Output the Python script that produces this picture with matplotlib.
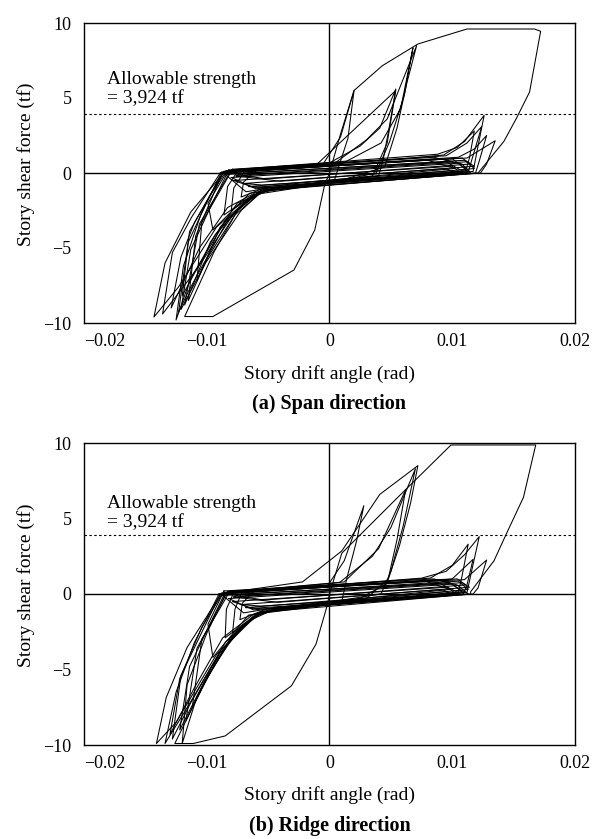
import matplotlib
matplotlib.use("Agg")
import matplotlib.pyplot as plt

plt.rcParams['font.family'] = ['Liberation Serif', 'DejaVu Serif']

# tick values / labels
x_ticks = [-0.02, -0.01, 0, 0.01, 0.02]
x_ticklabels = ['\u22120.02', '\u22120.01', '0', '0.01', '0.02']
y_ticks = [-10, -5, 0, 5, 10]
y_ticklabels = ['\u221210', '\u22125', '0', '5', '10']
allowable = 3.924

# (a) span direction: hysteresis loops, (drift angle, shear force)
span_big = [(-0.0004, -0.8), (0.0, 0.0), (0.0009, 2.6), (0.0020, 5.5), (0.0043, 7.15),
            (0.0072, 8.6), (0.0112, 9.6), (0.0167, 9.6), (0.0172, 9.45), (0.0163, 5.4),
            (0.0152, 3.6), (0.0142, 2.1), (0.0121, 0.0), (-0.0054, -1.15), (-0.0077, -2.8),
            (-0.0094, -5.25), (-0.0118, -9.57), (-0.0095, -9.57), (-0.0029, -6.47),
            (-0.0012, -3.8), (-0.0004, -0.8)]
span_c1 = [(-0.0088, 0.05), (0.0010, 0.62), (0.0042, 2.0), (0.0058, 4.3), (0.0068, 8.35),
           (0.0061, 5.2), (0.0049, 2.1), (0.0038, 0.0), (0.0015, -0.4), (-0.0056, -1.2),
           (-0.0084, -3.1), (-0.0113, -7.0), (-0.0125, -9.8), (-0.0119, -6.2),
           (-0.0105, -2.8), (-0.0088, 0.05)]
span_c2 = [(-0.0085, 0.12), (0.0005, 0.7), (0.0030, 2.2), (0.0047, 3.6), (0.0071, 8.5),
           (0.0063, 6.0), (0.0055, 3.0), (0.0045, 0.4), (0.0005, -0.6), (-0.0062, -1.45),
           (-0.0092, -3.6), (-0.0123, -7.6), (-0.0143, -9.6), (-0.0134, -6.0),
           (-0.0113, -2.6), (-0.0085, 0.12)]
span_c3 = [(-0.0089, 0.0), (-0.0005, 0.45), (0.0025, 1.8), (0.0041, 3.0), (0.0054, 5.6),
           (0.0049, 3.2), (0.0044, 1.0), (0.0040, -0.2), (-0.0058, -1.3), (-0.0078, -2.7),
           (-0.0108, -6.4), (-0.0136, -9.4), (-0.0128, -5.3), (-0.0112, -2.9), (-0.0089, 0.0)]
span_c4 = [(-0.0086, 0.1), (0.0060, 0.95), (0.0093, 1.2), (0.0110, 2.1), (0.0126, 3.85),
           (0.0121, 1.8), (0.0117, 0.1), (0.0010, -0.5), (-0.0060, -1.3), (-0.0083, -2.3),
           (-0.0106, -5.0), (-0.0129, -9.0), (-0.0121, -5.6), (-0.0110, -3.3), (-0.0086, 0.1)]
span_c5 = [(-0.0087, 0.05), (0.0105, 1.05), (0.0118, 1.6), (0.0128, 2.5), (0.0122, 0.8),
           (0.0119, 0.0), (-0.0056, -1.2), (-0.0074, -2.4), (-0.0099, -5.6), (-0.0115, -8.5),
           (-0.0109, -4.2), (-0.0087, 0.05)]
span_c6 = [(-0.0084, 0.15), (0.0112, 1.0), (0.0135, 2.15), (0.0128, 0.6), (0.0123, 0.0),
           (-0.0050, -1.1), (-0.0068, -1.9), (-0.0093, -4.1), (-0.0120, -8.2),
           (-0.0115, -4.6), (-0.0098, -1.6), (-0.0084, 0.15)]
span_c7 = [(-0.0082, 0.2), (0.0088, 1.25), (0.0104, 1.7), (0.0118, 2.8), (0.0114, 1.0),
           (0.0111, 0.15), (-0.0052, -1.0), (-0.0072, -2.5), (-0.0101, -6.0), (-0.0121, -9.1),
           (-0.0113, -5.1), (-0.0096, -2.1), (-0.0082, 0.2)]
span_c8 = [(-0.0087, 0.0), (-0.0006, 0.5), (0.0009, 2.4), (0.0020, 5.5), (0.0015, 2.3),
           (0.0007, 0.3), (0.0004, -0.5), (-0.0056, -1.15), (-0.0082, -3.0), (-0.0115, -7.9),
           (-0.0123, -9.3), (-0.0114, -3.9), (-0.0087, 0.0)]
span_c9 = [(-0.0080, 0.2), (-0.0010, 0.6), (0.0054, 5.5), (0.0047, 2.0), (0.0035, -0.2),
           (-0.0045, -1.0), (-0.0075, -2.0), (-0.0097, -4.6), (-0.0118, -8.8),
           (-0.0106, -3.4), (-0.0080, 0.2)]
span_c10 = [(-0.0079, 0.25), (0.0095, 1.15), (0.0112, 2.0), (0.0124, 3.1), (0.0116, 0.9),
            (0.0113, 0.05), (-0.0046, -1.0), (-0.0066, -1.7), (-0.0089, -3.6),
            (-0.0108, -7.2), (-0.0104, -3.3), (-0.0079, 0.25)]
span_c11 = [(-0.0075, 0.1), (0.0100, 0.95), (0.0114, 0.1), (-0.0040, -0.95), (-0.0063, -1.5),
            (-0.0086, -2.8), (-0.0083, -0.9), (-0.0075, 0.1)]
span_c12 = [(-0.0070, 0.0), (0.0095, 0.75), (0.0110, 0.05), (-0.0030, -0.8), (-0.0058, -1.3),
            (-0.0080, -2.5), (-0.0078, -1.0), (-0.0070, 0.0)]
span_c13 = [(-0.0083, 0.15), (0.0085, 1.05), (0.0108, 0.6), (0.0115, 0.0), (-0.0020, -0.75),
            (-0.0065, -1.35), (-0.0095, -3.8), (-0.0099, -2.0), (-0.0083, 0.15)]
span_c14 = [(-0.0060, 0.15), (0.0080, 0.85), (0.0102, 0.3), (-0.0010, -0.55), (-0.0050, -0.9),
            (-0.0072, -1.6), (-0.0070, -0.6), (-0.0060, 0.15)]
# small cycles inside the pinched band
span_b1 = [(-0.0085, -0.1), (0.0110, 0.85), (0.0118, 0.3), (-0.0045, -0.95),
           (-0.0068, -1.25), (-0.0085, -0.1)]
span_b2 = [(-0.0080, -0.3), (0.0105, 0.65), (0.0112, 0.15), (-0.0060, -1.05), (-0.0080, -0.3)]
span_b3 = [(-0.0078, -0.5), (0.0100, 0.45), (0.0108, -0.05), (-0.0062, -0.95), (-0.0078, -0.5)]
span_b4 = [(-0.0070, -0.7), (0.0095, 0.3), (0.0102, 0.0), (-0.0055, -0.8), (-0.0070, -0.7)]
span_b5 = [(-0.0082, 0.0), (0.0090, 0.95), (0.0100, 0.75), (-0.0065, -0.1), (-0.0082, 0.0)]
span_b6 = [(-0.0076, -0.2), (0.0112, 0.75), (0.0118, 0.45), (-0.0040, -0.55), (-0.0076, -0.2)]
span_b7 = [(-0.0084, 0.05), (0.0108, 1.0), (0.0115, 0.6), (-0.0052, -0.4), (-0.0084, 0.05)]
span_b8 = [(-0.0066, -0.9), (0.0098, 0.15), (0.0106, -0.05), (-0.0050, -1.0), (-0.0066, -0.9)]

# (b) ridge direction
ridge_big = [(-0.0002, -0.8), (0.0, 0.0), (0.0010, 2.7), (0.0055, 6.35), (0.0099, 9.87),
             (0.0168, 9.87), (0.0158, 6.4), (0.0144, 3.97), (0.0134, 2.2), (0.0115, 0.15),
             (0.0115, 0.0), (-0.0057, -1.22), (-0.0080, -2.9), (-0.0100, -5.6),
             (-0.0126, -9.9), (-0.0111, -9.9), (-0.0085, -9.4), (-0.0031, -6.08),
             (-0.0011, -3.32), (-0.0002, -0.8)]
ridge_c1 = [(-0.0090, 0.0), (-0.0022, 0.8), (0.0010, 2.85), (0.0041, 6.6), (0.0072, 8.5),
            (0.0066, 6.0), (0.0057, 3.2), (0.0048, 1.0), (0.0030, -0.3), (-0.0057, -1.22),
            (-0.0088, -3.7), (-0.0118, -7.8), (-0.0134, -9.9), (-0.0125, -6.5),
            (-0.0110, -3.2), (-0.0090, 0.0)]
ridge_c2 = [(-0.0088, 0.05), (0.0008, 0.75), (0.0035, 2.5), (0.0050, 4.4), (0.0070, 8.3),
            (0.0060, 4.5), (0.0050, 1.5), (0.0042, 0.0), (-0.0060, -1.3), (-0.0092, -4.0),
            (-0.0125, -8.5), (-0.0141, -9.9), (-0.0133, -6.85), (-0.0116, -3.54),
            (-0.0088, 0.05)]
ridge_c3 = [(-0.0089, 0.0), (-0.0002, 0.5), (0.0012, 2.2), (0.0028, 5.85), (0.0022, 3.5),
            (0.0014, 1.0), (0.0010, -0.5), (-0.0058, -1.25), (-0.0085, -3.2),
            (-0.0113, -7.2), (-0.0128, -9.6), (-0.0121, -5.4), (-0.0089, 0.0)]
ridge_c5 = [(-0.0087, 0.05), (0.0075, 1.05), (0.0095, 1.5), (0.0110, 2.6), (0.0122, 3.8),
            (0.0116, 1.6), (0.0112, 0.1), (0.0000, -0.7), (-0.0062, -1.35), (-0.0087, -2.9),
            (-0.0110, -6.2), (-0.0130, -9.3), (-0.0122, -5.6), (-0.0104, -2.2),
            (-0.0087, 0.05)]
ridge_c6 = [(-0.0085, 0.1), (0.0082, 1.05), (0.0100, 1.9), (0.0113, 3.3), (0.0108, 1.2),
            (0.0105, 0.1), (-0.0055, -1.15), (-0.0075, -2.4), (-0.0102, -5.8),
            (-0.0122, -9.0), (-0.0114, -4.8), (-0.0085, 0.1)]
ridge_c7 = [(-0.0083, 0.15), (0.0100, 1.0), (0.0117, 2.3), (0.0112, 0.6), (0.0109, 0.0),
            (-0.0050, -1.05), (-0.0070, -2.0), (-0.0096, -4.8), (-0.0117, -8.4),
            (-0.0108, -3.6), (-0.0083, 0.15)]
ridge_c8 = [(-0.0081, 0.2), (0.0110, 0.95), (0.0128, 2.25), (0.0121, 0.4), (0.0117, 0.0),
            (-0.0045, -1.0), (-0.0066, -1.8), (-0.0090, -4.0), (-0.0112, -7.6),
            (-0.0104, -3.0), (-0.0081, 0.2)]
ridge_c9 = [(-0.0084, 0.1), (0.0012, 0.8), (0.0040, 3.0), (0.0062, 6.9), (0.0055, 3.6),
            (0.0047, 0.7), (0.0020, -0.5), (-0.0054, -1.15), (-0.0080, -2.8),
            (-0.0108, -6.8), (-0.0120, -9.9), (-0.0116, -6.0), (-0.0100, -2.6),
            (-0.0084, 0.1)]
ridge_c10 = [(-0.0078, 0.1), (0.0095, 0.9), (0.0110, 0.1), (-0.0040, -0.95), (-0.0062, -1.5),
             (-0.0085, -2.9), (-0.0084, -1.0), (-0.0078, 0.1)]
ridge_c11 = [(-0.0072, 0.0), (0.0090, 0.7), (0.0106, 0.05), (-0.0030, -0.8), (-0.0057, -1.3),
             (-0.0079, -2.6), (-0.0077, -1.0), (-0.0072, 0.0)]
ridge_c12 = [(-0.0086, 0.2), (0.0085, 1.0), (0.0104, 0.6), (0.0113, 0.0), (-0.0020, -0.8),
             (-0.0066, -1.4), (-0.0095, -4.2), (-0.0099, -2.0), (-0.0086, 0.2)]
ridge_c13 = [(-0.0062, 0.15), (0.0078, 0.85), (0.0098, 0.3), (-0.0010, -0.6),
             (-0.0050, -0.95), (-0.0073, -1.7), (-0.0071, -0.6), (-0.0062, 0.15)]
ridge_b1 = [(-0.0087, -0.1), (0.0105, 0.85), (0.0113, 0.3), (-0.0047, -0.95),
            (-0.0070, -1.25), (-0.0087, -0.1)]
ridge_b2 = [(-0.0082, -0.3), (0.0100, 0.65), (0.0108, 0.15), (-0.0062, -1.05), (-0.0082, -0.3)]
ridge_b3 = [(-0.0079, -0.5), (0.0096, 0.45), (0.0104, -0.05), (-0.0063, -0.95), (-0.0079, -0.5)]
ridge_b4 = [(-0.0072, -0.7), (0.0092, 0.3), (0.0099, 0.0), (-0.0056, -0.8), (-0.0072, -0.7)]
ridge_b5 = [(-0.0084, 0.0), (0.0088, 0.95), (0.0097, 0.75), (-0.0066, -0.1), (-0.0084, 0.0)]
ridge_b6 = [(-0.0078, -0.2), (0.0108, 0.75), (0.0114, 0.45), (-0.0042, -0.55), (-0.0078, -0.2)]
ridge_b7 = [(-0.0086, 0.05), (0.0104, 1.0), (0.0111, 0.6), (-0.0054, -0.4), (-0.0086, 0.05)]
ridge_b8 = [(-0.0068, -0.9), (0.0094, 0.15), (0.0102, -0.05), (-0.0052, -1.0), (-0.0068, -0.9)]

span_loops = [span_big, span_c1, span_c2, span_c3, span_c4, span_c5, span_c6, span_c7,
              span_c8, span_c9, span_c10, span_c11, span_c12, span_c13, span_c14,
              span_b1, span_b2, span_b3, span_b4, span_b5, span_b6, span_b7, span_b8]
ridge_loops = [ridge_big, ridge_c1, ridge_c2, ridge_c3, ridge_c5, ridge_c6, ridge_c7,
               ridge_c8, ridge_c9, ridge_c10, ridge_c11, ridge_c12, ridge_c13,
               ridge_b1, ridge_b2, ridge_b3, ridge_b4, ridge_b5, ridge_b6, ridge_b7, ridge_b8]

W, H = 595, 839
fig = plt.figure(figsize=(W / 100, H / 100), dpi=100)
ax_a = fig.add_axes([84 / W, 1 - 323 / H, 491 / W, 300 / H])
ax_b = fig.add_axes([84 / W, 1 - 745 / H, 491 / W, 302 / H])


def draw_panel(ax, loops, text_y, title, title_y, xlabel_y):
    for loop in loops:
        xs = [p[0] for p in loop]
        ys = [p[1] for p in loop]
        ax.plot(xs, ys, color='black', lw=0.75)
    ax.axhline(0, color='black', lw=1.0)
    ax.axvline(0, color='black', lw=1.0)
    ax.axhline(allowable, color='black', lw=0.8, ls=(0, (2.2, 2.2)))
    ax.text(-0.0181, text_y[0], 'Allowable strength', fontsize=14, va='baseline')
    ax.text(-0.0181, text_y[1], '= 3,924 tf', fontsize=14, va='baseline')
    ax.set_xlim(-0.02, 0.02)
    ax.set_ylim(-10, 10)
    ax.set_xticks(x_ticks)
    ax.set_xticklabels(x_ticklabels, fontsize=13)
    ax.set_yticks(y_ticks)
    ax.set_yticklabels(y_ticklabels, fontsize=13)
    ax.get_xticklabels()[0].set_horizontalalignment('left')
    ax.tick_params(length=0)
    ax.tick_params(axis='x', pad=7)
    ax.tick_params(axis='y', pad=9)
    for s in ax.spines.values():
        s.set_linewidth(1.0)
    ax.set_ylabel('Story shear force (tf)', fontsize=14)
    ax.yaxis.set_label_coords(-0.1, 0.53)
    fig.text(0.5 * (84 + 575) / W, 1 - xlabel_y / H, 'Story drift angle (rad)',
             fontsize=14, ha='center', va='center')
    fig.text(0.5 * (84 + 575) / W, 1 - title_y / H, title, fontsize=14.5,
             fontweight='bold', ha='center', va='center')


draw_panel(ax_a, span_loops, (5.94, 4.63), '(a) Span direction', 404, 374)
draw_panel(ax_b, ridge_loops, (5.67, 4.40), '(b) Ridge direction', 826, 795)

fig.savefig('out.png', dpi=100)
